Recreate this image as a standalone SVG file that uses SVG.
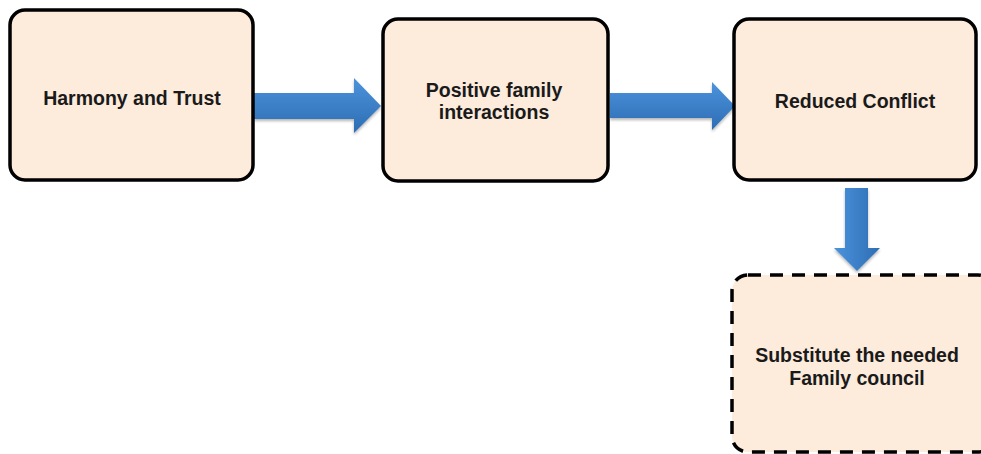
<svg xmlns="http://www.w3.org/2000/svg" width="981" height="454" viewBox="0 0 981 454">
  <style>
    .box { fill: #fdebdc; stroke: #000; stroke-width: 3.5; }
    .dashed { stroke-dasharray: 13 9; }
    .label { font-family: "Liberation Sans", Arial, sans-serif; font-weight: bold; font-size: 19.5px; fill: #1a1a1a; text-anchor: middle; }
    .arrow { fill: url(#blueH); }
    .arrowV { fill: url(#blueV); }
  </style>
  <defs>
    <linearGradient id="blueH" x1="0" y1="0" x2="0" y2="1">
      <stop offset="0" stop-color="#4b93dc"/>
      <stop offset="1" stop-color="#2e6db3"/>
    </linearGradient>
    <linearGradient id="blueV" x1="0" y1="0" x2="1" y2="0">
      <stop offset="0" stop-color="#4b93dc"/>
      <stop offset="1" stop-color="#2e6db3"/>
    </linearGradient>
    <filter id="soft" x="-10%" y="-20%" width="130%" height="150%">
      <feGaussianBlur in="SourceAlpha" stdDeviation="1.5"/>
      <feOffset dx="0" dy="2" result="b"/>
      <feComponentTransfer><feFuncA type="linear" slope="0.3"/></feComponentTransfer>
      <feMerge><feMergeNode/><feMergeNode in="SourceGraphic"/></feMerge>
    </filter>
  </defs>

  <!-- connectors -->
  <g id="connectors" filter="url(#soft)">
    <path class="arrow" d="M254,93 H354 V78 L381,106 L354,133 V119 H254 Z"/>
    <path class="arrow" d="M610,93 H712 V82 L735,106 L712,130 V118 H610 Z"/>
    <path class="arrowV" d="M845,188 H868 V248 H880 L857,271 L834,248 H845 Z"/>
  </g>

  <g id="node-harmony">
    <rect class="box" x="10" y="10" width="243" height="170" rx="15"/>
    <text class="label" x="132" y="105">Harmony and Trust</text>
  </g>

  <g id="node-positive">
    <rect class="box" x="383" y="19" width="225" height="162" rx="15"/>
    <text class="label" x="494" y="97">Positive family</text>
    <text class="label" x="494" y="119">interactions</text>
  </g>

  <g id="node-reduced">
    <rect class="box" x="734" y="19" width="242" height="161" rx="15"/>
    <text class="label" x="855" y="108">Reduced Conflict</text>
  </g>

  <g id="node-substitute">
    <rect class="box dashed" x="732" y="275" width="262" height="177" rx="16"/>
    <text class="label" x="857" y="362">Substitute the needed</text>
    <text class="label" x="857" y="385">Family council</text>
  </g>
</svg>
